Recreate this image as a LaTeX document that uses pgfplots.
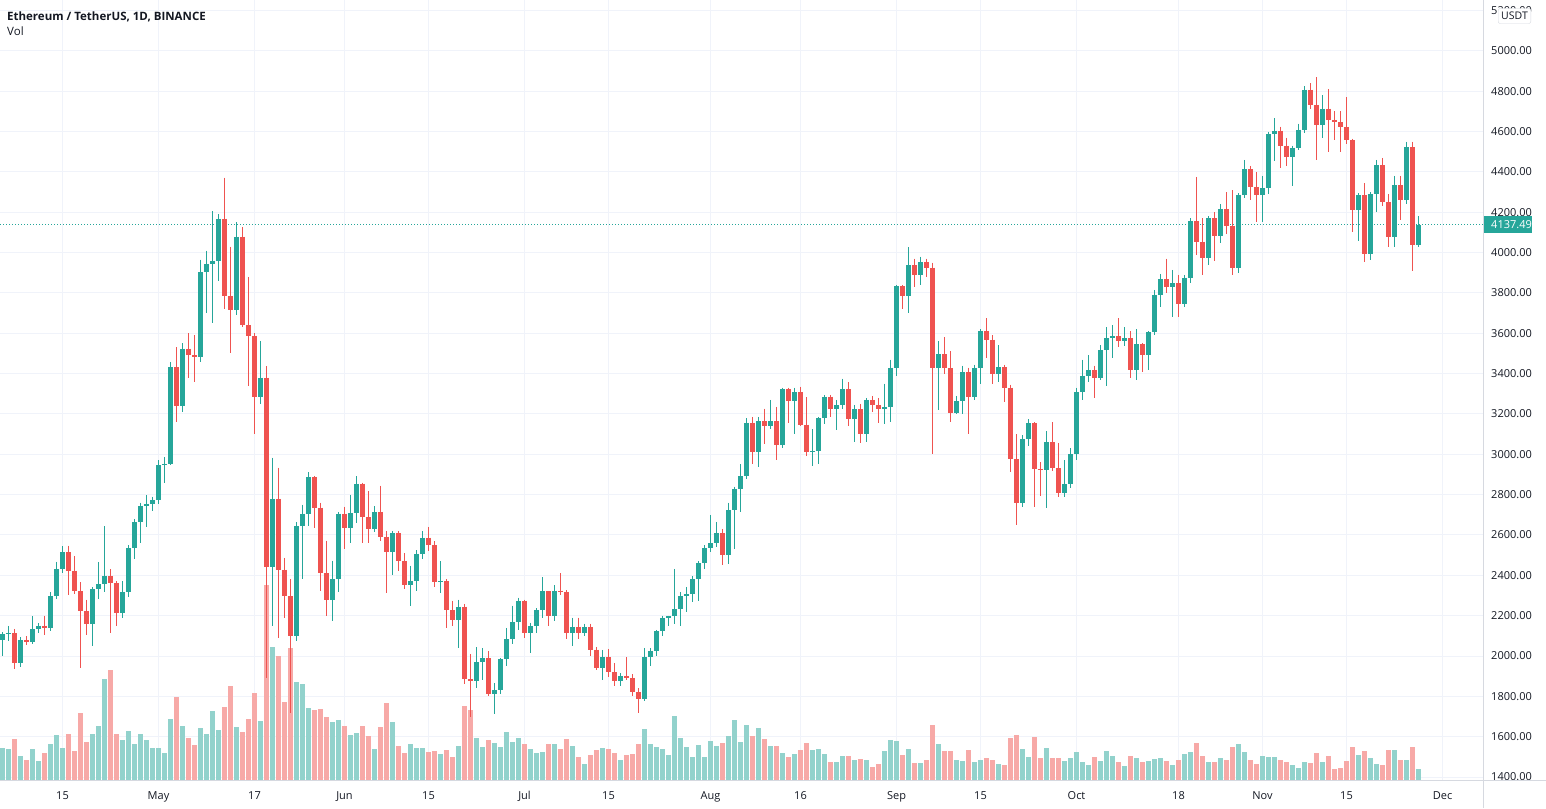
\documentclass[border=0pt]{standalone}
\usepackage{pgfplots}
\pgfplotsset{compat=1.18}
\usepackage{pgfplotstable}
\usepackage{fontspec}
\setmainfont{Open Sans}

\definecolor{up}{HTML}{26A69A}
\definecolor{down}{HTML}{EF5350}
\definecolor{volup}{HTML}{92D2CC}
\definecolor{voldown}{HTML}{F7A9A7}
\definecolor{gridc}{HTML}{F0F3FA}
\definecolor{txt}{HTML}{131722}
\definecolor{edge}{HTML}{D6D9E0}

% daily ETH/USDT, x = days since 5 Apr 2021, v = volume (k ETH)
\pgfplotstableread{
x o h l c v
0 2077 2119 2000 2107 640
1 2107 2150 2075 2112 620
2 2112 2135 1935 1964 820
3 1964 2094 1946 2078 480
4 2078 2099 2054 2068 400
5 2068 2196 2060 2134 620
6 2134 2163 2113 2151 380
7 2151 2200 2105 2138 540
8 2138 2318 2125 2299 720
9 2299 2468 2281 2432 900
10 2432 2544 2410 2514 640
11 2514 2547 2300 2423 920
12 2423 2497 2307 2320 580
13 2320 2365 1940 2224 1340
14 2224 2280 2103 2160 760
15 2160 2341 2050 2331 920
16 2331 2467 2283 2357 1080
17 2357 2644 2316 2397 2020
18 2397 2430 2113 2363 2200
19 2363 2370 2150 2213 920
20 2213 2370 2190 2316 800
21 2316 2550 2295 2534 980
22 2534 2680 2480 2662 720
23 2662 2760 2560 2746 920
24 2746 2798 2640 2756 800
25 2756 2790 2720 2773 640
26 2773 2970 2755 2945 640
27 2945 2985 2860 2953 540
28 2953 3457 2945 3431 1220
29 3431 3530 3160 3240 1660
30 3240 3550 3210 3524 1080
31 3524 3600 3376 3490 840
32 3490 3590 3360 3480 700
33 3480 3965 3460 3902 1040
34 3902 4010 3700 3945 920
35 3945 4205 3650 3960 1380
36 3960 4190 3860 4168 1000
37 4168 4372 3720 3785 1460
38 3785 4030 3500 3715 1880
39 3715 4150 3690 4079 1060
40 4079 4126 3630 3641 960
41 3641 3880 3340 3587 1220
42 3587 3600 3103 3282 1740
43 3282 3562 3250 3380 1180
44 3380 3437 1890 2441 3900
45 2441 2984 2150 2779 2660
46 2779 2934 2090 2428 2480
47 2428 2487 2190 2296 1560
48 2296 2380 1718 2100 2640
49 2100 2665 2075 2643 1960
50 2643 2750 2383 2706 1920
51 2706 2912 2645 2888 1440
52 2888 2890 2636 2736 1400
53 2736 2760 2323 2410 1420
54 2410 2572 2199 2278 1260
55 2278 2473 2175 2383 1160
56 2383 2715 2315 2706 1200
57 2706 2740 2530 2634 1080
58 2634 2800 2560 2707 900
59 2707 2891 2660 2855 940
60 2855 2860 2560 2689 1080
61 2689 2817 2558 2630 880
62 2630 2743 2616 2715 620
63 2715 2845 2570 2592 1060
64 2592 2620 2310 2517 1540
65 2517 2620 2400 2611 1160
66 2611 2620 2420 2472 680
67 2472 2510 2330 2353 540
68 2353 2448 2249 2372 720
69 2372 2525 2320 2508 640
70 2508 2620 2480 2587 640
71 2587 2640 2520 2549 560
72 2549 2570 2340 2367 580
73 2367 2470 2310 2373 520
74 2373 2380 2140 2226 600
75 2226 2275 2150 2178 460
76 2178 2280 2040 2245 680
77 2245 2258 1860 1885 1480
78 1885 2010 1700 1876 1400
79 1876 2044 1840 1968 840
80 1968 2040 1880 1989 660
81 1989 2025 1800 1812 800
82 1812 1865 1713 1829 740
83 1829 1990 1810 1983 660
84 1983 2140 1950 2084 960
85 2084 2250 2060 2167 760
86 2167 2290 2130 2275 840
87 2275 2280 2090 2114 720
88 2114 2165 2015 2150 620
89 2150 2237 2116 2226 540
90 2226 2390 2190 2322 560
91 2322 2323 2150 2197 720
92 2197 2350 2173 2324 720
93 2324 2410 2300 2318 620
94 2318 2325 2085 2116 820
95 2116 2190 2050 2146 680
96 2146 2190 2085 2114 460
97 2114 2160 2100 2143 320
98 2143 2160 2000 2032 500
99 2032 2045 1930 1940 600
100 1940 2030 1883 1995 640
101 1995 2035 1895 1919 620
102 1919 1965 1850 1874 540
103 1874 1915 1850 1899 400
104 1899 1995 1880 1892 500
105 1892 1910 1800 1820 520
106 1820 1840 1718 1788 720
107 1788 2040 1776 1994 1020
108 1994 2040 1950 2026 720
109 2026 2130 2000 2123 660
110 2123 2200 2100 2189 620
111 2189 2200 2150 2196 500
112 2196 2432 2160 2233 1280
113 2233 2318 2150 2298 840
114 2298 2343 2220 2305 660
115 2305 2396 2270 2381 460
116 2381 2470 2275 2461 700
117 2461 2550 2430 2536 460
118 2536 2700 2515 2560 780
119 2560 2665 2540 2610 680
120 2610 2630 2450 2502 740
121 2502 2760 2455 2724 880
122 2724 2840 2532 2827 1200
123 2827 2950 2715 2890 760
124 2890 3180 2880 3157 1100
125 3157 3185 2950 3012 880
126 3012 3185 2937 3163 1040
127 3163 3227 3053 3140 820
128 3140 3270 3125 3164 680
129 3164 3235 2970 3047 680
130 3047 3330 3030 3322 540
131 3322 3330 3155 3265 460
132 3265 3330 3100 3308 520
133 3308 3335 3140 3147 600
134 3147 3282 2990 3012 740
135 3012 3123 2944 3017 600
136 3017 3185 2950 3180 620
137 3180 3295 3150 3286 520
138 3286 3295 3185 3226 360
139 3226 3270 3120 3242 360
140 3242 3375 3225 3322 480
141 3322 3358 3140 3173 480
142 3173 3245 3060 3224 400
143 3224 3250 3055 3100 420
144 3100 3280 3060 3270 400
145 3270 3290 3210 3243 260
146 3243 3280 3155 3227 320
147 3227 3350 3150 3236 580
148 3236 3470 3160 3430 800
149 3430 3840 3387 3834 780
150 3834 3840 3720 3787 500
151 3787 4027 3700 3937 620
152 3937 3970 3830 3887 340
153 3887 3980 3840 3953 340
154 3953 3970 3880 3926 400
155 3926 3950 3000 3428 1100
156 3428 3560 3220 3497 720
157 3497 3580 3400 3426 580
158 3426 3510 3160 3207 580
159 3207 3290 3200 3263 400
160 3263 3440 3200 3408 380
161 3408 3430 3100 3285 600
162 3285 3445 3270 3429 360
163 3429 3620 3350 3612 400
164 3612 3675 3475 3569 440
165 3569 3590 3350 3398 400
166 3398 3540 3360 3431 320
167 3431 3445 3260 3330 300
168 3330 3345 2910 2977 840
169 2977 3100 2650 2758 900
170 2758 3095 2740 3077 620
171 3077 3175 3040 3153 460
172 3153 3160 2740 2928 860
173 2928 2960 2795 2920 440
174 2920 3115 2736 3059 640
175 3059 3160 2915 2931 440
176 2931 3055 2790 2807 440
177 2807 2970 2790 2851 380
178 2851 3030 2835 3001 440
179 3001 3330 2970 3307 560
180 3307 3470 3270 3390 360
181 3390 3490 3360 3418 300
182 3418 3440 3280 3380 460
183 3380 3540 3370 3517 380
184 3517 3630 3340 3576 580
185 3576 3640 3475 3585 480
186 3585 3675 3530 3562 360
187 3562 3630 3535 3575 280
188 3575 3610 3380 3416 480
189 3416 3620 3370 3545 440
190 3545 3550 3410 3494 360
191 3494 3610 3420 3605 380
192 3605 3815 3590 3790 420
193 3790 3895 3730 3867 440
194 3867 3970 3800 3830 380
195 3830 3915 3680 3847 300
196 3847 3890 3680 3747 400
197 3747 3890 3730 3876 520
198 3876 4170 3850 4155 560
199 4155 4375 3990 4055 740
200 4055 4170 3890 3973 480
201 3973 4180 3940 4170 360
202 4170 4200 3960 4084 360
203 4084 4240 4050 4217 440
204 4217 4300 4090 4131 400
205 4131 4310 3890 3923 660
206 3923 4295 3900 4288 720
207 4288 4460 4270 4414 560
208 4414 4430 4260 4326 400
209 4326 4400 4150 4288 320
210 4288 4380 4150 4322 480
211 4322 4600 4290 4586 460
212 4586 4665 4455 4605 460
213 4605 4625 4420 4531 400
214 4531 4570 4430 4474 360
215 4474 4530 4330 4521 300
216 4521 4640 4510 4610 240
217 4610 4825 4595 4808 360
218 4808 4840 4710 4732 340
219 4732 4870 4460 4632 540
220 4632 4780 4570 4714 360
221 4714 4810 4500 4658 480
222 4658 4700 4560 4646 220
223 4646 4700 4500 4623 240
224 4623 4770 4540 4556 380
225 4556 4565 4100 4210 660
226 4210 4295 4060 4285 500
227 4285 4345 3955 3995 580
228 3995 4300 3965 4290 440
229 4290 4460 4200 4434 320
230 4434 4470 4230 4250 300
231 4250 4290 4026 4076 600
232 4076 4380 4030 4334 600
233 4334 4380 4160 4260 400
234 4260 4550 4240 4523 400
235 4523 4550 3910 4036 660
236 4036 4180 4030 4137.49 220
}\ethusdt

\pgfplotsset{
  chart/.style={at={(0pt,0pt)}, anchor=north west, scale only axis,
    width=1483pt, height=780pt, xmin=-0.4167, xmax=246.75},
  price/.style={chart, ymin=1385.2, ymax=5252.4},
  candle/.style 2 args={draw=none, mark=none, forget plot,
    error bars/.cd, y dir=minus, y explicit, error mark=none,
    error bar style={draw=#1, line width=#2}},
}

\begin{document}
\begin{tikzpicture}[font=\fontsize{11}{13}\selectfont]
\useasboundingbox (0pt,0pt) rectangle (1546pt,-808pt);

% grid and scales
\begin{axis}[price,
  axis line style={draw=none}, major tick length=0pt,
  xtick={10,26,42,57,71,87,101,118,133,149,163,179,196,210,224,240},
  xticklabels={15,May,17,Jun,15,Jul,15,Aug,16,Sep,15,Oct,18,Nov,15,Dec},
  ytick={1400,1600,...,5200},
  yticklabel pos=right,
  scaled y ticks=false,
  grid=major, major grid style={draw=gridc, line width=1pt},
  tick label style={text=txt, font=\fontsize{11}{13}\selectfont},
  yticklabel style={anchor=west, inner sep=0pt, xshift=8pt,
    /pgf/number format/.cd, fixed, fixed zerofill, precision=2, 1000 sep={}},
  xticklabel style={anchor=base, inner sep=0pt, yshift=-19pt},
  /pgf/number format/assume math mode=true,
]
\addplot[draw=none, forget plot] coordinates {(0,2000)};
\end{axis}

% volume
\begin{axis}[chart, ymin=0, ymax=15600, hide axis]
\addplot[ycomb, volup, line width=4.6pt]
  table[x=x, y expr={\thisrow{c}>=\thisrow{o} ? \thisrow{v} : nan}] {\ethusdt};
\addplot[ycomb, voldown, line width=4.6pt]
  table[x=x, y expr={\thisrow{c}<\thisrow{o} ? \thisrow{v} : nan}] {\ethusdt};
\end{axis}

% candles
\begin{axis}[price, hide axis, clip=false]
\addplot[up, dash pattern=on 1pt off 2pt, line width=1pt, forget plot]
  coordinates {(-0.4167,4137.49) (246.75,4137.49)};
\addplot[candle={up}{1pt}]
  table[x=x, y expr={\thisrow{c}>=\thisrow{o} ? \thisrow{h} : nan},
        y error minus expr={\thisrow{h}-\thisrow{l}}] {\ethusdt};
\addplot[candle={down}{1pt}]
  table[x=x, y expr={\thisrow{c}<\thisrow{o} ? \thisrow{h} : nan},
        y error minus expr={\thisrow{h}-\thisrow{l}}] {\ethusdt};
\addplot[candle={up}{4.6pt}]
  table[x=x, y expr={\thisrow{c}>=\thisrow{o} ? \thisrow{c} : nan},
        y error minus expr={\thisrow{c}-\thisrow{o}}] {\ethusdt};
\addplot[candle={down}{4.6pt}]
  table[x=x, y expr={\thisrow{c}<\thisrow{o} ? \thisrow{o} : nan},
        y error minus expr={\thisrow{o}-\thisrow{c}}] {\ethusdt};
\node[anchor=west, fill=up, text=white, inner xsep=0pt, inner ysep=0pt,
  minimum height=17pt] at (axis cs:246.75,4137.49) {\hspace{8pt}4137.49\hspace{4pt}};
\end{axis}

% frame of the scales
\draw[edge, line width=1pt] (0pt,-780pt) -- (1546pt,-780pt);
\draw[edge, line width=1pt] (1483pt,0pt) -- (1483pt,-808pt);

% header and unit box
\node[anchor=base west, inner sep=0pt, text=txt, font=\fontsize{11.5}{13}\selectfont\bfseries]
  at (7pt,-20.5pt) {Ethereum / TetherUS, 1D, BINANCE};
\node[anchor=base west, inner sep=0pt, text=txt, font=\fontsize{11.5}{13}\selectfont]
  at (7pt,-36pt) {Vol};
\node[draw=edge, fill=white, rounded corners=2pt, text=txt, inner xsep=3pt,
  minimum height=15pt, font=\fontsize{10.5}{12}\selectfont] at (1514.5pt,-16pt) {USDT};
\end{tikzpicture}
\end{document}
